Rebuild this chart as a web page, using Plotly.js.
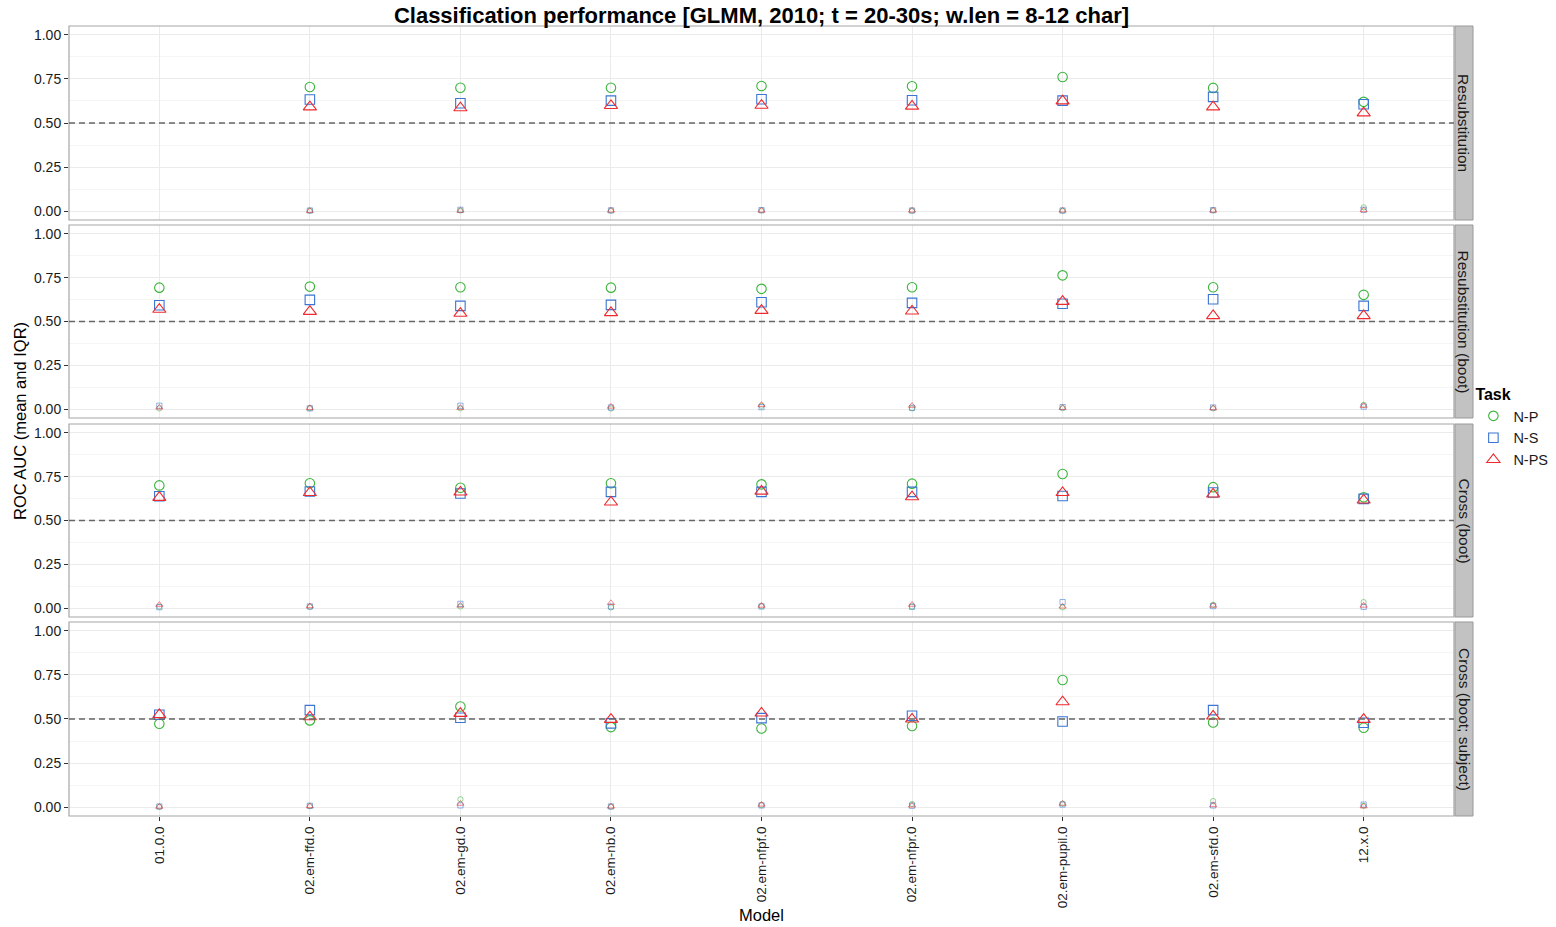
<!DOCTYPE html>
<html>
<head>
<meta charset="utf-8">
<script src="https://cdn.plot.ly/plotly-3.0.1.min.js"></script>
<style>html,body{margin:0;padding:0;background:#fff;}#chart{width:1556px;height:927px;}</style>
</head>
<body>
<div id="chart"></div>
<script>
// ---- data ----
const models = ['01.0.0','02.em-ffd.0','02.em-gd.0','02.em-nb.0','02.em-nfpf.0','02.em-nfpr.0','02.em-pupil.0','02.em-sfd.0','12.x.0'];
const tasks = ['N-P','N-S','N-PS'];
const facets = ['Resubstitution','Resubstitution (boot)','Cross (boot)','Cross (boot; subject)'];

// means
const npResub   = [null,0.704,0.700,0.700,0.710,0.708,0.761,0.699,0.620];
const nsResub   = [null,0.633,0.612,0.627,0.635,0.629,0.627,0.648,0.606];
const npsResub  = [null,0.591,0.586,0.599,0.600,0.595,0.625,0.591,0.557];
const npBoot    = [0.693,0.699,0.695,0.693,0.686,0.695,0.763,0.695,0.652];
const nsBoot    = [0.593,0.623,0.589,0.595,0.610,0.606,0.601,0.627,0.589];
const npsBoot   = [0.569,0.557,0.546,0.550,0.563,0.559,0.614,0.533,0.533];
const npCross   = [0.700,0.712,0.687,0.712,0.706,0.710,0.765,0.690,0.632];
const nsCross   = [0.638,0.665,0.654,0.663,0.663,0.663,0.640,0.660,0.623];
const npsCross  = [0.631,0.659,0.662,0.605,0.667,0.635,0.659,0.650,0.616];
const npSubj    = [0.473,0.492,0.571,0.454,0.446,0.460,0.721,0.480,0.450];
const nsSubj    = [0.524,0.550,0.507,0.475,0.505,0.518,0.486,0.550,0.479];
const npsSubj   = [0.524,0.512,0.531,0.497,0.533,0.499,0.597,0.516,0.497];

// IQR
const npResubIqr  = [null,0.003,0.004,0.003,0.004,0.003,0.003,0.005,0.022];
const nsResubIqr  = [null,0.004,0.008,0.005,0.006,0.004,0.004,0.006,0.008];
const npsResubIqr = [null,0.002,0.003,0.004,0.004,0.004,0.004,0.004,0.006];
const npBootIqr   = [0.005,0.006,0.005,0.004,0.020,0.005,0.006,0.005,0.025];
const nsBootIqr   = [0.020,0.005,0.020,0.010,0.012,0.008,0.012,0.010,0.015];
const npsBootIqr  = [0.010,0.007,0.008,0.015,0.025,0.020,0.008,0.006,0.020];
const npCrossIqr  = [0.010,0.008,0.010,0.005,0.012,0.010,0.005,0.020,0.035];
const nsCrossIqr  = [0.006,0.010,0.025,0.010,0.010,0.008,0.035,0.012,0.008];
const npsCrossIqr = [0.020,0.012,0.015,0.030,0.015,0.020,0.010,0.015,0.015];
const npSubjIqr   = [0.002,0.006,0.045,0.003,0.012,0.018,0.020,0.035,0.008];
const nsSubjIqr   = [0.004,0.008,0.010,0.004,0.010,0.008,0.015,0.010,0.015];
const npsSubjIqr  = [0.003,0.006,0.020,0.004,0.015,0.010,0.020,0.012,0.005];

const meanSets = [[npResub,nsResub,npsResub],[npBoot,nsBoot,npsBoot],[npCross,nsCross,npsCross],[npSubj,nsSubj,npsSubj]];
const iqrSets  = [[npResubIqr,nsResubIqr,npsResubIqr],[npBootIqr,nsBootIqr,npsBootIqr],[npCrossIqr,nsCrossIqr,npsCrossIqr],[npSubjIqr,nsSubjIqr,npsSubjIqr]];

// ---- styles ----
const colors = ['#3BB53B','#3A74D4','#EE2A2E'];
const symbols = ['circle-open','square-open','triangle-up-open'];
const sizes = [9.5,9.5,11.5];
const FONT = 'Liberation Sans, Arial, sans-serif';

// panel domains (paper)
const domains = [[0.7544,1.0],[0.5038,0.7481],[0.2519,0.4962],[0.0,0.2456]];

const traces = [];
for (let p = 0; p < 4; p++) {
  const ya = p === 0 ? 'y' : 'y' + (p + 1);
  for (let t = 0; t < 3; t++) {
    traces.push({
      type:'scatter', mode:'markers', x: models, y: iqrSets[p][t], xaxis:'x', yaxis: ya,
      name: tasks[t], legendgroup: tasks[t], showlegend:false, hoverinfo:'skip',
      marker:{symbol:symbols[t], size:sizes[t]*0.55, color:colors[t], opacity:0.55, line:{width:1}}
    });
  }
  for (let t = 0; t < 3; t++) {
    traces.push({
      type:'scatter', mode:'markers', x: models, y: meanSets[p][t], xaxis:'x', yaxis: ya,
      name: tasks[t], legendgroup: tasks[t], showlegend: p === 0,
      marker:{symbol:symbols[t], size:sizes[t], color:colors[t], line:{width:1.1}}
    });
  }
}

const layout = {
  width:1556, height:927,
  margin:{l:69, r:102, t:26, b:111, autoexpand:false},
  paper_bgcolor:'#ffffff', plot_bgcolor:'#ffffff',
  font:{family:FONT, color:'#1a1a1a'},
  showlegend:true,
  title:{text:'<b>Classification performance [GLMM, 2010; t = 20-30s; w.len = 8-12 char]</b>',
         x:0.5, xref:'paper', xanchor:'center', y:1-15/927, yref:'container', yanchor:'middle',
         font:{family:FONT, size:22, color:'#000'}},
  legend:{x:1.014, xanchor:'left', y:0.553, yanchor:'top', font:{family:FONT, size:14.5, color:'#1a1a1a'},
          title:{text:'<b>Task</b>', font:{family:FONT, size:16, color:'#000'}},
          tracegroupgap:0, itemwidth:30, bgcolor:'rgba(0,0,0,0)'},
  xaxis:{type:'category', categoryorder:'array', categoryarray:models, range:[-0.6, 8.6],
         anchor:'y4', showgrid:true, gridcolor:'#EBEBEB', gridwidth:1, zeroline:false,
         ticks:'outside', ticklen:4, tickcolor:'#333', tickangle:-90,
         tickfont:{family:FONT, size:13.5, color:'#1a1a1a'}, showline:false},
  shapes:[], annotations:[]
};

const plotW = 1556 - 69 - 102;
const stripX0 = 1 + 1/plotW, stripX1 = 1 + 19/plotW;
for (let p = 0; p < 4; p++) {
  const key = p === 0 ? 'yaxis' : 'yaxis' + (p + 1);
  const yref = p === 0 ? 'y' : 'y' + (p + 1);
  layout[key] = {
    domain: domains[p], anchor:'x', range:[-0.05, 1.05],
    tickvals:[0,0.25,0.5,0.75,1], ticktext:['0.00','0.25','0.50','0.75','1.00'],
    showgrid:true, gridcolor:'#EBEBEB', gridwidth:1, zeroline:false,
    minor:{tickvals:[0.125,0.375,0.625,0.875], showgrid:true, gridcolor:'#F5F5F5', gridwidth:1},
    ticks:'outside', ticklen:4, tickcolor:'#333',
    tickfont:{family:FONT, size:14, color:'#1a1a1a'}, showline:false
  };
  // panel border
  layout.shapes.push({type:'rect', xref:'paper', yref: yref + ' domain', x0:0, x1:1, y0:0, y1:1,
                      line:{color:'#A6A6A6', width:1.2}, fillcolor:'rgba(0,0,0,0)', layer:'above'});
  // dashed reference line
  layout.shapes.push({type:'line', xref:'paper', yref: yref, x0:0, x1:1, y0:0.5, y1:0.5,
                      line:{color:'#666666', width:1.3, dash:'6px,4px'}, layer:'above'});
  // strip
  layout.shapes.push({type:'rect', xref:'paper', yref: yref + ' domain', x0:stripX0, x1:stripX1, y0:0, y1:1,
                      line:{color:'#999999', width:1}, fillcolor:'#C2C2C2', layer:'below'});
  layout.annotations.push({xref:'paper', yref: yref + ' domain', x:(stripX0+stripX1)/2, y:0.5,
                           text:facets[p], textangle:90, showarrow:false,
                           font:{family:FONT, size:15.5, color:'#1a1a1a'}, xanchor:'center', yanchor:'middle'});
}
// axis titles
layout.annotations.push({xref:'paper', yref:'paper', x:(20-69)/plotW, y:0.5, text:'ROC AUC (mean and IQR)',
                         textangle:-90, showarrow:false, font:{family:FONT, size:16.5, color:'#000'},
                         xanchor:'center', yanchor:'middle'});
layout.annotations.push({xref:'paper', yref:'paper', x:0.5, y:(816-915)/790, text:'Model',
                         showarrow:false, font:{family:FONT, size:16.5, color:'#000'},
                         xanchor:'center', yanchor:'middle'});

Plotly.newPlot('chart', traces, layout, {displayModeBar:false, staticPlot:true});
</script>
</body>
</html>
